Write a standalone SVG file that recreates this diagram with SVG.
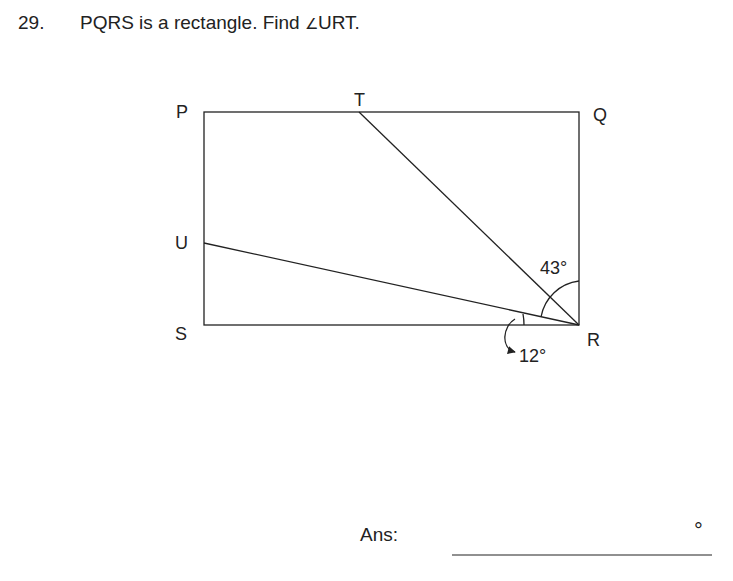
<svg xmlns="http://www.w3.org/2000/svg" width="733" height="581" viewBox="0 0 733 581">
<style>
text{font-family:"Liberation Sans",Arial,sans-serif;fill:#222;}
.t{font-size:19px;}
.l{font-size:18px;}
.s{stroke:#222;stroke-width:1.3;fill:none;}
</style>
<defs>
<marker id="ah" viewBox="0 0 10 10" refX="9" refY="5" markerWidth="10" markerHeight="8" orient="auto" markerUnits="userSpaceOnUse"><path d="M0,0 L10,5 L0,10 z" fill="#222"/></marker>
</defs>
<rect width="733" height="581" fill="#fff"/>
<g id="title">
<text class="t" x="18" y="29">29.</text>
<text class="t" x="80" y="29">PQRS is a rectangle. Find <tspan font-size="15px">∠</tspan>URT.</text>
</g>
<g id="rectangle">
<rect class="s" x="204" y="112" width="375" height="213"/>
</g>
<g id="connectors">
<line class="s" x1="359" y1="112" x2="579" y2="325"/>
<line class="s" x1="204" y1="243" x2="579" y2="325"/>
<path class="s" d="M579,281 A44,44 0 0 0 541,317"/>
<path class="s" d="M523,314 A56,56 0 0 1 524,325"/>
<path class="s" d="M515,319 C503,326 500,348 515,352" marker-end="url(#ah)"/>
</g>
<g id="labels">
<text class="l" x="176" y="118">P</text>
<text class="l" x="354" y="106">T</text>
<text class="l" x="593" y="121">Q</text>
<text class="l" x="175" y="249">U</text>
<text class="l" x="175" y="340">S</text>
<text class="l" x="587" y="346">R</text>
<text class="l" x="540" y="274">43°</text>
<text class="l" x="519" y="362">12°</text>
</g>
<g id="answer">
<text class="t" x="360" y="541">Ans:</text>
<text x="694" y="538" font-size="22px">°</text>
<line x1="452" y1="555" x2="712" y2="555" stroke="#222" stroke-width="1.2"/>
</g>
</svg>
